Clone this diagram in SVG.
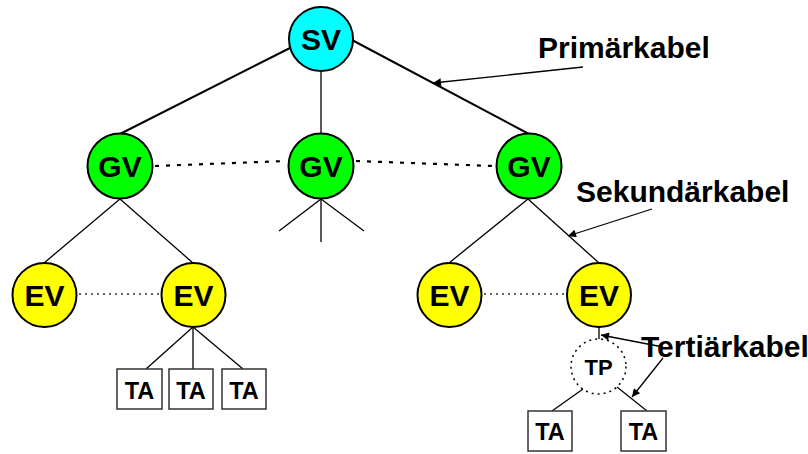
<svg xmlns="http://www.w3.org/2000/svg" width="808" height="454" viewBox="0 0 808 454">
<style>
text{font-family:"Liberation Sans",Arial,sans-serif;font-weight:bold;fill:#000}
.n{font-size:30px;text-anchor:middle}
.ta{font-size:23.5px;text-anchor:middle}
.lbl{font-size:30px}
.node{stroke:#000;stroke-width:2}
.box{fill:#fff;stroke:#333;stroke-width:1.5}
.prim{stroke:#000;stroke-width:2;fill:none}
.sec{stroke:#000;stroke-width:1.3;fill:none}
.dot1{stroke:#000;stroke-width:2.2;stroke-dasharray:4 7;fill:none}
.dot2{stroke:#333;stroke-width:1.5;stroke-dasharray:2 4;fill:none}
.ptr{stroke:#000;stroke-width:1.3;fill:none;marker-end:url(#ah)}
</style>
<defs>
<marker id="ah" viewBox="0 0 10 10" refX="10" refY="5" markerWidth="10" markerHeight="8" markerUnits="userSpaceOnUse" orient="auto">
<path d="M0,0 L10,5 L0,10 z" fill="#000"/>
</marker>
</defs>
<rect width="808" height="454" fill="#fff"/>
<g id="connectors">
<line class="prim" x1="120" y1="134" x2="290" y2="48"/>
<line class="prim" x1="352" y1="40" x2="529" y2="134"/>
<line class="sec" x1="321" y1="72" x2="321" y2="134"/>
<line class="dot1" x1="155" y1="166" x2="286" y2="161"/>
<line class="dot1" x1="356" y1="161" x2="494" y2="166"/>
<line class="sec" x1="120" y1="199" x2="44" y2="263"/>
<line class="sec" x1="120" y1="199" x2="193" y2="263"/>
<line class="sec" x1="321" y1="199" x2="279" y2="231"/>
<line class="sec" x1="321" y1="199" x2="321" y2="242"/>
<line class="sec" x1="321" y1="199" x2="364" y2="231"/>
<line class="sec" x1="528" y1="199" x2="449" y2="263"/>
<line class="sec" x1="528" y1="199" x2="599" y2="263"/>
<line class="dot2" x1="79" y1="294" x2="160" y2="294"/>
<line class="dot2" x1="484" y1="294" x2="566" y2="294"/>
<line class="sec" x1="193" y1="327" x2="146" y2="369"/>
<line class="sec" x1="193" y1="327" x2="193" y2="369"/>
<line class="sec" x1="193" y1="327" x2="243" y2="369"/>
<line class="sec" x1="599" y1="327" x2="599" y2="340"/>
<line class="sec" x1="583" y1="389" x2="552" y2="411"/>
<line class="sec" x1="617" y1="387" x2="647" y2="411"/>
<line class="ptr" x1="583" y1="67" x2="433" y2="83"/>
<line class="ptr" x1="652" y1="209" x2="568" y2="236"/>
<line class="ptr" x1="663" y1="347" x2="601" y2="335"/>
<line class="ptr" x1="663" y1="358" x2="632" y2="397"/>
</g>
<g id="SV"><circle class="node" cx="321" cy="39" r="32" fill="#00FFFF"/><text class="n" x="321" y="50">SV</text></g>
<g id="GV1"><circle class="node" cx="120" cy="166" r="32.5" fill="#00FF00"/><text class="n" x="120" y="177">GV</text></g>
<g id="GV2"><circle class="node" cx="321" cy="166" r="32.5" fill="#00FF00"/><text class="n" x="321" y="177">GV</text></g>
<g id="GV3"><circle class="node" cx="529" cy="166" r="32.5" fill="#00FF00"/><text class="n" x="529" y="177">GV</text></g>
<g id="EV1"><circle class="node" cx="44.5" cy="295" r="32" fill="#FFFF00"/><text class="n" x="44.5" y="306">EV</text></g>
<g id="EV2"><circle class="node" cx="193.5" cy="295" r="32" fill="#FFFF00"/><text class="n" x="193.5" y="306">EV</text></g>
<g id="EV3"><circle class="node" cx="449.5" cy="295" r="32" fill="#FFFF00"/><text class="n" x="449.5" y="306">EV</text></g>
<g id="EV4"><circle class="node" cx="599" cy="295" r="32" fill="#FFFF00"/><text class="n" x="599" y="306">EV</text></g>
<g id="TP"><circle cx="598.5" cy="366.5" r="27.5" fill="#fff" stroke="#000" stroke-width="1.5" stroke-dasharray="2 4"/><text x="598.5" y="375" style="font-size:22px;text-anchor:middle">TP</text></g>
<g id="TA1"><rect class="box" x="117" y="369" width="45" height="40"/><text class="ta" x="139.5" y="398.5">TA</text></g>
<g id="TA2"><rect class="box" x="169" y="369" width="44" height="40"/><text class="ta" x="191" y="398.5">TA</text></g>
<g id="TA3"><rect class="box" x="222" y="369" width="44" height="40"/><text class="ta" x="244" y="398.5">TA</text></g>
<g id="TA4"><rect class="box" x="528" y="411" width="44" height="40"/><text class="ta" x="550" y="439.5">TA</text></g>
<g id="TA5"><rect class="box" x="621" y="411" width="45" height="40"/><text class="ta" x="643.5" y="439.5">TA</text></g>
<g id="labels">
<text class="lbl" x="538" y="58">Primärkabel</text>
<text class="lbl" x="576" y="202">Sekundärkabel</text>
<text class="lbl" x="641" y="357">Tertiärkabel</text>
</g>
</svg>
